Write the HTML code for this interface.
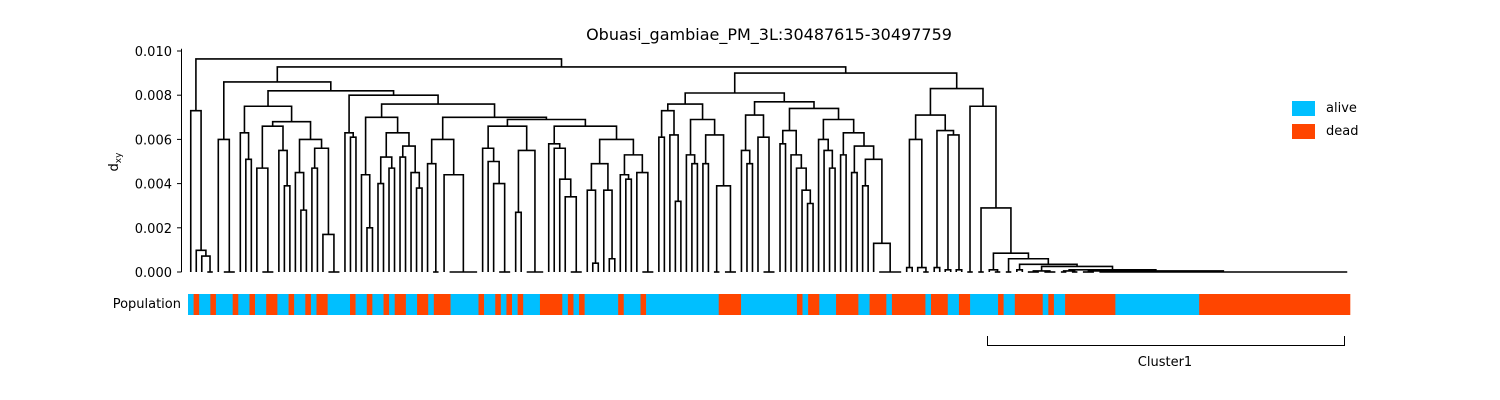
<!DOCTYPE html>
<html><head><meta charset="utf-8"><style>
body{margin:0;background:#fff;}
svg{display:block;font-family:"DejaVu Sans","Liberation Sans",sans-serif;}
</style></head><body>
<svg id="chart" width="1500" height="400" viewBox="0 0 1500 400">
<text x="769" y="40" font-size="16" text-anchor="middle">Obuasi_gambiae_PM_3L:30487615-30497759</text>
<g id="yaxis"></g>
<text transform="translate(118,162) rotate(-90)" font-size="13" text-anchor="middle">d<tspan font-size="9" dy="3">xy</tspan></text>
<g id="tree" fill="none" stroke="#000" stroke-width="1.6"></g>
<text x="181" y="308" font-size="13" text-anchor="end">Population</text>
<g id="pop"></g>
<g>
<g><rect x="1292" y="101" width="23" height="15" fill="#00bfff"/><text x="1326" y="112" font-size="13">alive</text></g>
<g><rect x="1292" y="124" width="23" height="15" fill="#ff4500"/><text x="1326" y="135" font-size="13">dead</text></g>
</g>
<g fill="none" stroke="#000" stroke-width="1">
<path d="M987.5,336 V345.5 H1344.5 V336"/>
</g>
<text x="1165" y="366" font-size="13" text-anchor="middle">Cluster1</text>
</svg>
<script>
// heights in units of 0.001; leaf entries are counts of leaves joined at ~0
const yTicks = [0, 0.002, 0.004, 0.006, 0.008, 0.010];
const yTickLabels = ["0.000", "0.002", "0.004", "0.006", "0.008", "0.010"];
const treeA = [7.3, 1, [0.98, 1, [0.72, 1, 2]]];
const treeC1 = [6.0, 1, 3];
const treeC2a = [7.5, [6.3, 1, [5.1, 1, 1]], [6.8, [6.6, [4.7, 1, 3], [5.5, 1, [3.9, 1, 1]]], [6.0, [4.5, 1, [2.8, 1, 1]], [5.6, [4.7, 1, 1], [1.7, 1, 3]]]]];
const treeQ = [7.0, [4.4, 1, [2.0, 1, 1]], [6.3, [5.2, [4.0, 1, 1], [4.7, 1, 1]], [5.7, [5.2, 1, 1], [4.5, 1, [3.8, 1, 1]]]]];
const treeY = [6.9, [6.6, [5.6, 1, [5.0, 1, [4.0, 1, 3]]], [5.5, [2.7, 1, 1], 4]], [6.6, [5.8, 1, [5.6, 1, [4.2, 1, [3.4, 1, 3]]]], [6.0, [4.9, [3.7, 1, [0.4, 1, 1]], [3.7, 1, [0.6, 1, 1]]], [5.3, [4.4, 1, [4.2, 1, 1]], [4.5, 1, 3]]]]];
const treeR = [7.0, [6.0, [4.9, 1, 2], [4.4, 1, 6]], treeY];
const treeC2b = [8.0, [6.3, 1, [6.1, 1, 1]], [7.6, treeQ, treeR]];
const treeC = [8.6, treeC1, [8.2, treeC2a, treeC2b]];
const treeD1 = [8.1, [7.6, [7.3, [6.1, 1, 1], [6.2, 1, [3.2, 1, 1]]], [6.9, [5.3, 1, [4.9, 1, 1]], [6.2, [4.9, 1, 1], [3.9, 2, 3]]]], [7.7, [7.1, [5.5, 1, [4.9, 1, 1]], [6.1, 1, 3]], [7.4, [6.4, [5.8, 1, 1], [5.3, 1, [4.7, 1, [3.7, 1, [3.1, 1, 1]]]]], [6.9, [6.0, 1, [5.5, 1, [4.7, 1, 1]]], [6.3, [5.3, 1, 1], [5.7, [4.5, 1, 1], [5.1, [3.9, 1, 1], [1.3, 1, 5]]]]]]]];
const treeK = [0.85, [0.1, 1, 2], [0.6, 2, [0.35, [0.1, 1, 1], [0.25, [0.05, 3, 3], [0.1, [0.05, 2, 2], [0.05, 3, 46]]]]]];
const treeD2 = [8.3, [7.1, [6.0, [0.2, 1, 1], [0.2, 1, 2]], [6.4, [0.2, 1, 1], [6.2, [0.1, 1, 1], [0.1, 1, 1]]]], [7.5, 2, [2.9, 2, treeK]]];
const treeRoot = [9.64, treeA, [9.28, treeC, [9.0, treeD1, treeD2]]];
const popColors = ["alive","dead","alive","dead","alive","dead","alive","dead","alive","dead","alive","dead","alive","dead","alive","dead","alive","dead","alive","dead","alive","dead","alive","dead","alive","dead","alive","dead","alive","dead","alive","dead","alive","dead","alive","dead","alive","dead","alive","dead","alive","dead","alive","dead","alive","dead","alive","dead","alive","dead","alive","dead","alive","dead","alive","dead","alive","dead","alive","dead","alive","dead","alive","dead","alive","dead","alive","dead","alive","dead","alive","dead"];
const popCounts = [1,1,2,1,3,1,2,1,2,2,2,1,2,1,1,2,4,1,2,1,2,1,1,2,2,2,1,3,5,1,2,1,1,1,1,1,3,4,1,1,1,1,6,1,3,1,13,4,10,1,1,2,3,4,2,3,1,6,1,3,2,2,5,1,2,5,1,1,2,9,15,27];

const NS = "http://www.w3.org/2000/svg";
const X0 = 188, X1 = 1350, Y0 = 272, YPX = 22100;
function countLeaves(n){ return typeof n === "number" ? n : countLeaves(n[1]) + countLeaves(n[2]); }
const N = countLeaves(treeRoot);
const popN = popCounts.reduce((a,b)=>a+b,0);
const w = (X1 - X0) / N;
const xOf = i => X0 + (i + 0.5) * w;
const yOf = v => Y0 - v * YPX;
const treeG = document.getElementById("tree");
function addPath(d, name){
  const p = document.createElementNS(NS, "path");
  p.setAttribute("d", d);
  
  
  treeG.appendChild(p);
}
function layout(node, start){
  if (typeof node === "number"){
    const a = xOf(start), b = xOf(start + node - 1);
    if (node > 1) addPath("M" + a + "," + yOf(0) + " H" + b, "leaf-clump");
    return {x: (a + b) / 2, h: 0, n: node};
  }
  const h = node[0] / 1000;
  const l = layout(node[1], start);
  const r = layout(node[2], start + l.n);
  addPath("M" + l.x + "," + yOf(l.h) + " V" + yOf(h) + " H" + r.x + " V" + yOf(r.h), "dendrogram-link");
  return {x: (l.x + r.x) / 2, h: h, n: l.n + r.n};
}
layout(treeRoot, 0);

const ya = document.getElementById("yaxis");
const spine = document.createElementNS(NS, "line");
spine.setAttribute("x1", 181.5); spine.setAttribute("x2", 181.5);
spine.setAttribute("y1", yOf(0.0101)); spine.setAttribute("y2", Y0);
spine.setAttribute("stroke", "#000"); spine.setAttribute("stroke-width", "1");


ya.appendChild(spine);
yTicks.forEach((v, i) => {
  const y = yOf(v);
  const t = document.createElementNS(NS, "line");
  t.setAttribute("x1", 177); t.setAttribute("x2", 181.5);
  t.setAttribute("y1", y); t.setAttribute("y2", y);
  t.setAttribute("stroke", "#000");
  
  
  ya.appendChild(t);
  const tx = document.createElementNS(NS, "text");
  tx.setAttribute("x", 172); tx.setAttribute("y", y + 5);
  tx.setAttribute("font-size", "13"); tx.setAttribute("text-anchor", "end");
  tx.textContent = yTickLabels[i];
  
  
  ya.appendChild(tx);
});

const popG = document.getElementById("pop");
const pw = (X1 - X0) / popN;
let idx = 0;
popCounts.forEach((c, k) => {
  const r = document.createElementNS(NS, "rect");
  r.setAttribute("x", X0 + idx * pw);
  r.setAttribute("y", 294);
  r.setAttribute("width", c * pw + 0.3);
  r.setAttribute("height", 21);
  r.setAttribute("fill", popColors[k] === "alive" ? "#00bfff" : "#ff4500");
  
  
  popG.appendChild(r);
  idx += c;
});
</script>
</body></html>
